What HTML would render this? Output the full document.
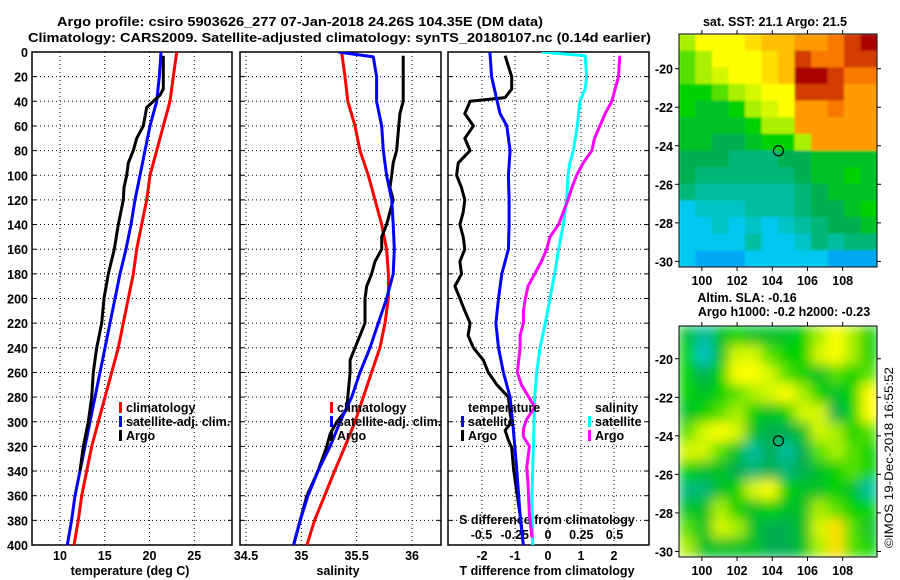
<!DOCTYPE html>
<html><head><meta charset="utf-8"><style>
html,body{margin:0;padding:0;background:#fff;}
svg{display:block;font-family:"Liberation Sans",Arial,sans-serif;}
.b{font-weight:bold;font-size:12.5px;}
</style></head><body>
<svg id="s" width="900" height="580" viewBox="0 0 900 580" xmlns="http://www.w3.org/2000/svg">
<defs>
<clipPath id="c1"><rect x="32" y="52" width="200" height="493"/></clipPath>
<clipPath id="c2"><rect x="240" y="52" width="201" height="493"/></clipPath>
<clipPath id="c3"><rect x="448" y="52" width="201" height="493"/></clipPath>
<clipPath id="cm1"><rect x="679" y="34" width="198" height="233"/></clipPath>
<clipPath id="cm2"><rect x="679" y="326" width="198" height="231"/></clipPath>
<filter id="bl" x="-10%" y="-10%" width="120%" height="120%"><feGaussianBlur stdDeviation="6" edgeMode="duplicate"/></filter>
<filter id="bl2" x="-10%" y="-10%" width="120%" height="120%"><feGaussianBlur stdDeviation="1" edgeMode="duplicate"/></filter>
</defs>
<text class="b" x="57" y="26" font-size="14" textLength="486" lengthAdjust="spacingAndGlyphs">Argo profile: csiro 5903626_277 07-Jan-2018 24.26S 104.35E (DM data)</text>
<text class="b" x="28" y="42" font-size="14" textLength="623" lengthAdjust="spacingAndGlyphs">Climatology: CARS2009. Satellite-adjusted climatology: synTS_20180107.nc (0.14d earlier)</text>
<text class="b" x="775" y="26" text-anchor="middle">sat. SST: 21.1 Argo: 21.5</text>
<text class="b" x="747" y="302" text-anchor="middle">Altim. SLA: -0.16</text>
<text class="b" x="784" y="316" text-anchor="middle">Argo h1000: -0.2 h2000: -0.23</text>
<text transform="translate(893,548) rotate(-90)" font-size="12" textLength="181" lengthAdjust="spacingAndGlyphs">©IMOS 19-Dec-2018 16:55:52</text>
<g id="g"></g>
</svg>
<script>
// ---- data ----
const depthTicks=[0,20,40,60,80,100,120,140,160,180,200,220,240,260,280,300,320,340,360,380,400];
const tempTicks=[10,15,20,25];
const salTicks=[34.5,35,35.5,36];
const tdTicks=[-2,-1,0,1,2];
const sdTicks=[-0.5,-0.25,0,0.25,0.5];
const sdTickLabels=["-0.5","-0.25","0","0.25","0.5"];

const climDepth=[0,20,40,50,60,80,100,120,140,160,180,200,220,240,260,280,300,320,340,360,380,400];
const climTemp=[23.04,22.66,22.29,21.92,21.54,20.8,20.06,19.69,19.13,18.57,18.19,17.63,17.07,16.51,15.78,15.03,14.28,13.54,12.98,12.42,12.05,11.56];
const satDepth=[0,20,40,60,80,100,120,140,160,180,200,220,240,260,280,300,320,340,360,380,400];
const satTemp=[21.28,21.1,20.8,20.06,19.5,18.94,18.38,17.93,17.37,16.7,16.15,15.59,15.03,14.47,13.91,13.35,12.79,12.23,11.68,11.3,10.82];
const argoTDepth=[3,30,35,40,45,60,70,80,90,100,110,120,140,160,180,200,220,240,260,280,300,320,340];
const argoTemp=[21.54,21.54,21.17,20.43,19.69,19.31,18.57,18.19,17.63,17.45,17.15,17.07,16.51,16.07,15.4,14.92,14.66,14.1,13.72,13.54,13.16,12.6,12.23];

const climSDepth=[0,20,40,60,80,100,120,140,160,180,200,220,240,260,280,300,320,340,360,380,400];
const climSal=[35.364,35.394,35.42,35.485,35.53,35.605,35.665,35.726,35.77,35.786,35.786,35.756,35.71,35.635,35.56,35.485,35.394,35.30,35.21,35.12,35.05];
const satSDepth=[0,4,20,40,60,80,100,120,140,160,180,200,220,240,260,280,300,320,340,360,380,400];
const satSal=[35.334,35.65,35.68,35.68,35.726,35.74,35.77,35.816,35.83,35.84,35.83,35.77,35.695,35.62,35.53,35.455,35.35,35.26,35.15,35.06,34.99,34.93];
const argoSDepth=[3,20,40,50,60,80,90,100,110,120,140,150,160,170,180,190,200,220,230,240,250,260,280,290,300,310,320,340,360,380,400];
const argoSal=[35.92,35.92,35.92,35.89,35.88,35.86,35.83,35.816,35.80,35.83,35.77,35.726,35.726,35.665,35.635,35.59,35.575,35.575,35.53,35.485,35.44,35.44,35.42,35.41,35.32,35.26,35.23,35.15,35.05,34.99,34.93];

const argoTdDepth=[3,20,30,37,40,50,60,70,80,90,100,110,120,130,140,150,160,170,180,190,200,210,220,230,240,250,260,270,280,293,300,307,315,321,337,356,375,394];
const argoTd=[-1.30,-1.10,-1.10,-1.30,-2.36,-2.52,-2.26,-2.52,-2.36,-2.72,-2.77,-2.62,-2.52,-2.57,-2.67,-2.57,-2.52,-2.67,-2.62,-2.82,-2.67,-2.52,-2.36,-2.42,-2.26,-1.96,-1.81,-1.55,-1.20,-1.15,-1.10,-1.30,-1.20,-1.10,-1.05,-0.95,-0.85,-0.77];
const satTdDepth=[0,20,40,50,60,80,100,120,140,160,180,200,220,240,260,280,293,307,337,356,375,400];
const satTd=[-1.76,-1.71,-1.54,-1.45,-1.25,-1.15,-1.20,-1.18,-1.18,-1.20,-1.40,-1.50,-1.58,-1.50,-1.35,-1.15,-1.10,-1.05,-0.95,-0.90,-0.85,-0.75];
const satSdDepth=[0,3,20,30,40,60,80,90,100,120,140,160,180,200,220,240,260,280,320,360,400];
const satSd=[-0.05,0.28,0.29,0.28,0.24,0.22,0.19,0.165,0.15,0.14,0.115,0.08,0.05,0.015,-0.02,-0.06,-0.085,-0.10,-0.11,-0.12,-0.115];
const argoSdDepth=[3,20,40,50,60,70,80,90,100,110,120,130,140,150,160,170,180,190,200,210,220,230,240,250,260,270,288,298,306,312,320,337,350,375,394];
const argoSd=[0.54,0.53,0.48,0.43,0.39,0.35,0.33,0.265,0.215,0.18,0.15,0.115,0.08,0.015,-0.01,-0.05,-0.10,-0.15,-0.17,-0.185,-0.185,-0.21,-0.21,-0.22,-0.23,-0.20,-0.10,-0.16,-0.185,-0.185,-0.14,-0.16,-0.15,-0.14,-0.12];

const mapLonTicks=[100,102,104,106,108];
const mapLatTicks=[-20,-22,-24,-26,-28,-30];
const argoLon=104.35, argoLat=-24.26;
const sstGrid=[
[6,7,7,7,7.5,8,8,8.5,8.5,9,9.5,10],
[5.5,6,7,7,7,7.5,8,9.5,9,9,9.5,9.5],
[5.5,6,6.5,7,7,7.5,8,10,10,9.5,9,9],
[5,5,5.5,6,6.5,7,7,9.5,9.5,9.5,8.5,8.5],
[5,4.5,4.5,5,6,6.5,7,8.5,8.5,9,8.5,8.5],
[4.5,4.5,4.5,4.5,5,6,6,8.5,8.5,8.5,8.5,8.5],
[4.5,4.5,4,4,4.5,5,5,6,8.5,8.5,8.5,8.5],
[4,4,4,3.5,3.5,3.5,4,4,4.5,4.5,4.5,4.5],
[4,3.5,3.5,3.5,3.5,3.5,3.5,4,4.5,4.5,5,4.5],
[3.5,3,3,3,3,3,3,3.5,4,4.5,4.5,4.5],
[2,2.5,2.5,2.5,3,3,3,3.5,4,4,4.5,5],
[2,2,2.5,2,2.5,2,2.5,3,3.5,4,4,4.5],
[2,2,2,2,3,2,2,2.5,3.5,3,3.5,3.5],
[2,1.5,1.5,1.5,2,2,2,2,2,1.5,1.5,1.5]];
const slaGrid=[
[4.5,3,4.5,5,4.5,4.5,4.5,5,6,7,6,5],
[5,2.5,4.5,6.5,6.5,5.5,5,5,6.5,7,6,5],
[5,4,5,7,7,6.5,5.5,5,4.5,5.5,5,5.5],
[5,4.5,5,5.5,6,6.5,7,6,5,4.5,5,7],
[4.5,5,5.5,6,5,4.5,5,6.5,6.5,4,5,7],
[5.5,6.5,7,6.5,4.5,4,4,4.5,6.5,6,5,5.5],
[6.5,6.5,5.5,4.5,3,4,3,4,5.5,6,5.5,5],
[5,4.5,4.5,4,3.5,4,3.5,4,4.5,5,5.5,5],
[3.5,3.5,4.5,5,6.5,7,5,4.5,4.5,5,4.5,3],
[4.5,4.5,6,5,4.5,5,4.5,4.5,6,5.5,5,5],
[5.5,4.5,6.5,6,4.5,4,4,4.5,6.5,7.5,5.5,4.5],
[6,4.5,4.5,4.5,4.5,4,4,4.5,6,7.5,5.5,5]];

// ---- drawing ----
const NS='http://www.w3.org/2000/svg';
const G=document.getElementById('g');
function mk(tag,attrs,parent){const e=document.createElementNS(NS,tag);for(const k in attrs)e.setAttribute(k,attrs[k]);(parent||G).appendChild(e);return e;}
const yD=d=>52+d*1.2325;
const xT=t=>60+(t-10)*8.95;
const xS=s=>246+(s-34.5)*110.7;
const xTd=t=>548+t*33;
const xSd=s=>548+s*133;
const panels=[{x:32,w:200,ticks:tempTicks,f:xT},{x:240,w:201,ticks:salTicks,f:xS},{x:448,w:201,ticks:tdTicks,f:xTd}];
panels.forEach((p,i)=>{
  const gr=mk('g',{});
  
  
  depthTicks.forEach(d=>{if(d>0&&d<400)mk('line',{x1:p.x,x2:p.x+p.w,y1:yD(d),y2:yD(d),stroke:'#000','stroke-width':1,'stroke-dasharray':'1,3'},gr);
    mk('line',{x1:p.x,x2:p.x+4,y1:yD(d),y2:yD(d),stroke:'#000'},gr);mk('line',{x1:p.x+p.w-4,x2:p.x+p.w,y1:yD(d),y2:yD(d),stroke:'#000'},gr);});
  p.ticks.forEach(t=>{const x=p.f(t);mk('line',{x1:x,x2:x,y1:52,y2:545,stroke:'#000','stroke-dasharray':'1,3'},gr);});
  const fr=mk('rect',{x:p.x,y:52,width:p.w,height:493,fill:'none',stroke:'#000','stroke-width':1.5});
  
  
});
depthTicks.forEach(d=>{const t=mk('text',{x:28,y:yD(d)+5,'text-anchor':'end',class:'b'});t.textContent=d;
  
  });
function xlab(arr,f,labs,y){arr.forEach((v,i)=>{const t=mk('text',{x:f(v),y:y,'text-anchor':'middle',class:'b'});t.textContent=labs?labs[i]:v;
  
  });}
xlab(tempTicks,xT,null,560);xlab(salTicks,xS,null,560);xlab(tdTicks,xTd,null,560);xlab(sdTicks,xSd,sdTickLabels,539);
[['temperature (deg C)',130,575],['salinity',338,575],['T difference from climatology',547,575],['S difference from climatology',547,524]].forEach(a=>{
  const t=mk('text',{x:a[1],y:a[2],'text-anchor':'middle',class:'b'});t.textContent=a[0];
  
  });
function line(ds,vs,f,col,clip,name){const pts=ds.map((d,i)=>f(vs[i]).toFixed(1)+','+yD(d).toFixed(1)).join(' ');
  const e=mk('polyline',{points:pts,fill:'none',stroke:col,'stroke-width':3,'stroke-linejoin':'round','clip-path':'url(#'+clip+')'});
  
  }
line(climDepth,climTemp,xT,'#f00','c1','climatology-temperature-line');
line(satDepth,satTemp,xT,'#00f','c1','satellite-temperature-line');
line(argoTDepth,argoTemp,xT,'#000','c1','argo-temperature-line');
line(climSDepth,climSal,xS,'#f00','c2','climatology-salinity-line');
line(argoSDepth,argoSal,xS,'#000','c2','argo-salinity-line');
line(satSDepth,satSal,xS,'#00f','c2','satellite-salinity-line');
line(argoTdDepth,argoTd,xTd,'#000','c3','argo-t-diff-line');
line(satTdDepth,satTd,xTd,'#00f','c3','satellite-t-diff-line');
line(satSdDepth,satSd,xSd,'#0ff','c3','satellite-s-diff-line');
line(argoSdDepth,argoSd,xSd,'#f0f','c3','argo-s-diff-line');
function leg(x,y,col,txt){if(col){const r=mk('rect',{x:x,y:y-10,width:3,height:11,fill:col});}
  const t=mk('text',{x:x+7,y:y,class:'b'});t.textContent=txt;
  
  }
leg(119,412,'#f00','climatology');leg(119,426,'#00f','satellite-adj. clim.');leg(119,440,'#000','Argo');
leg(330,412,'#f00','climatology');leg(330,426,'#00f','satellite-adj. clim.');leg(330,440,'#000','Argo');
leg(461,412,null,'temperature');leg(461,426,'#00f','satellite');leg(461,440,'#000','Argo');
leg(588,412,null,'salinity');leg(588,426,'#0ff','satellite');leg(588,440,'#f0f','Argo');

// colormap
const stops=[[0,[0,70,255]],[2,[0,200,240]],[3,[0,190,160]],[4,[0,175,80]],[5,[0,210,0]],[6,[170,240,0]],[7,[255,255,0]],[8,[255,190,0]],[9,[250,120,0]],[10,[170,0,0]]];
function cmap(v){for(let i=1;i<stops.length;i++){if(v<=stops[i][0]){const a=stops[i-1],b=stops[i],t=(v-a[0])/(b[0]-a[0]);
  return 'rgb('+a[1].map((c,k)=>Math.round(c+(b[1][k]-c)*t)).join(',')+')';}}return 'rgb(170,0,0)';}
function map(grid,x0,y0,w,h,lat0,clip,filt,name){
  const lonL=98.7,lonR=109.95;
  const xl=lon=>x0+(lon-lonL)/(lonR-lonL)*w;
  const yl=lat=>y0+(lat0-lat)*19.27;
  const wrap=mk('g',{'clip-path':'url(#'+clip+')'});
  
  
  const g2=mk('g',{filter:'url(#'+filt+')'},wrap);
  const R=grid.length,C=grid[0].length,ch=h/R,cw=w/C;
  grid.forEach((row,r)=>row.forEach((v,c)=>{const e=mk('rect',{x:x0+c*cw,y:y0+r*ch,width:cw+0.6,height:ch+0.6,fill:cmap(v)},g2);
    
    }));
  const fr=mk('rect',{x:x0,y:y0,width:w,height:h,fill:'none',stroke:'#000','stroke-width':1});
  
  
  mapLonTicks.forEach(l=>{const x=xl(l);mk('line',{x1:x,x2:x,y1:y0,y2:y0-4,stroke:'#000'});mk('line',{x1:x,x2:x,y1:y0+h,y2:y0+h+4,stroke:'#000'});
    const t=mk('text',{x:x,y:y0+h+18,'text-anchor':'middle',class:'b'});t.textContent=l;
    
    });
  mapLatTicks.forEach(l=>{const y=yl(l);mk('line',{x1:x0-4,x2:x0,y1:y,y2:y,stroke:'#000'});mk('line',{x1:x0+w,x2:x0+w+4,y1:y,y2:y,stroke:'#000'});
    const t=mk('text',{x:x0-6,y:y+5,'text-anchor':'end',class:'b'});t.textContent=l;
    
    });
  const m=mk('circle',{cx:xl(argoLon),cy:yl(argoLat),r:5,fill:'none',stroke:'#000','stroke-width':1.2});
  
  
}
map(sstGrid,679,34,198,233,-18.2,'cm1','bl2','sst-map');
map(slaGrid,679,326,198,231,-18.3,'cm2','bl','sla-map');
</script>
</body></html>
